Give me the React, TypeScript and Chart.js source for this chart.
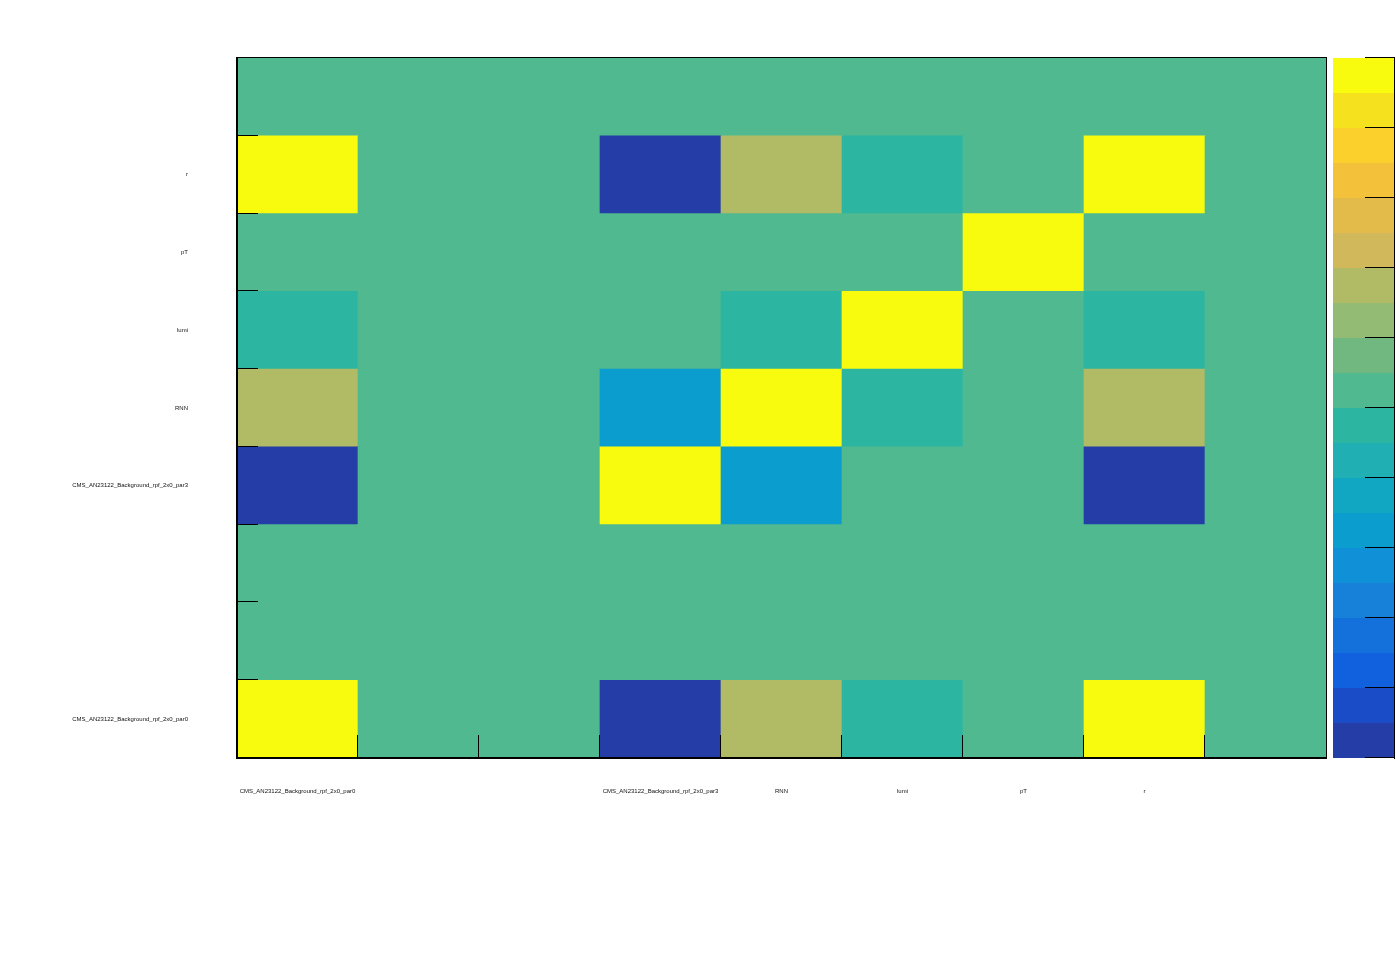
import React, { useEffect, useRef } from "react";
import { Chart, registerables } from "chart.js";

Chart.register(...registerables);

// Parameter names (bins); empty strings are unlabeled bins
const xLabels = [
  "CMS_AN23122_Background_rpf_2x0_par0",
  "",
  "",
  "CMS_AN23122_Background_rpf_2x0_par3",
  "RNN",
  "lumi",
  "pT",
  "r",
  "",
];
// y labels from bottom row to top row
const yLabels = [
  "CMS_AN23122_Background_rpf_2x0_par0",
  "",
  "",
  "CMS_AN23122_Background_rpf_2x0_par3",
  "RNN",
  "lumi",
  "pT",
  "r",
  "",
];

// Correlation values, one array per row (bottom to top), columns left to right
const rowPar0 = [1, 0, 0, -1, 0.35, -0.05, 0, 1, 0];
const rowEmpty1 = [0, 0, 0, 0, 0, 0, 0, 0, 0];
const rowEmpty2 = [0, 0, 0, 0, 0, 0, 0, 0, 0];
const rowPar3 = [-1, 0, 0, 1, -0.35, 0, 0, -1, 0];
const rowRNN = [0.35, 0, 0, -0.35, 1, -0.05, 0, 0.35, 0];
const rowLumi = [-0.05, 0, 0, 0, -0.05, 1, 0, -0.05, 0];
const rowPT = [0, 0, 0, 0, 0, 0, 1, 0, 0];
const rowR = [1, 0, 0, -1, 0.35, -0.05, 0, 1, 0];
const rowEmpty8 = [0, 0, 0, 0, 0, 0, 0, 0, 0];
const rows = [rowPar0, rowEmpty1, rowEmpty2, rowPar3, rowRNN, rowLumi, rowPT, rowR, rowEmpty8];

// Color palette (20 steps from -1 to 1)
const palette = [
  "#253DA6", "#1A4CC8", "#1160DE", "#1470DB", "#1780D8",
  "#1090D6", "#0B9DCE", "#11A7C2", "#20AFB3", "#2CB6A2",
  "#50B98F", "#70B87F", "#93BB74", "#B1BB65", "#D0B85B",
  "#E2BB4B", "#F4C13B", "#FCD02C", "#F6E11F", "#F9FB0E",
];
const zMin = -1;
const zMax = 1;
const colorbarTicks = [-1, -0.8, -0.6, -0.4, -0.2, 0, 0.2, 0.4, 0.6, 0.8, 1];

function colorFor(v: number): string {
  const n = palette.length;
  let idx = Math.floor(((v - zMin) / (zMax - zMin)) * n);
  if (idx < 0) idx = 0;
  if (idx > n - 1) idx = n - 1;
  return palette[idx];
}

const FONT = { family: "'Liberation Sans', Arial, Helvetica, sans-serif", size: 6 };

const decorPlugin = {
  id: "decor",
  afterDraw(chart: any) {
    const ctx = chart.ctx;
    const area = chart.chartArea;
    const xs = chart.scales.x;
    const ys = chart.scales.y;
    ctx.save();
    ctx.strokeStyle = "#000";
    ctx.fillStyle = "#000";
    const L = Math.round(area.left);
    const R = Math.round(area.right);
    const T = Math.round(area.top);
    const B = Math.round(area.bottom);
    // frame (1px top/right)
    ctx.fillRect(L, T - 1, R - L + 1, 1);
    ctx.fillRect(R, T - 1, 1, B - T + 1);
    // left axis line (thicker)
    ctx.fillRect(L - 1, T - 1, 2, B - T + 2);
    // bottom axis line
    ctx.fillRect(L - 1, B - 1, R - L + 2, 2);
    // y ticks at row boundaries
    for (let j = 0; j <= yLabels.length; j++) {
      const py = Math.round(ys.getPixelForValue(j));
      ctx.fillRect(L, py - 1, 21, 1);
    }
    // x ticks at column boundaries
    for (let i = 1; i < xLabels.length; i++) {
      const px = Math.round(xs.getPixelForValue(i - 0.5));
      ctx.fillRect(px - 1, B - 23, 1, 23);
    }
    // colorbar
    const cbLeft = 1333;
    const cbRight = 1394;
    const zToPix = (z: number) => area.bottom - ((z - zMin) / (zMax - zMin)) * (area.bottom - area.top);
    const n = palette.length;
    for (let k = 0; k < n; k++) {
      const z0 = zMin + (k * (zMax - zMin)) / n;
      const z1 = zMin + ((k + 1) * (zMax - zMin)) / n;
      const yTop = Math.round(zToPix(z1));
      const yBot = Math.round(zToPix(z0));
      ctx.fillStyle = palette[k];
      ctx.fillRect(cbLeft, yTop, cbRight - cbLeft, yBot - yTop);
    }
    ctx.fillStyle = "#000";
    ctx.fillRect(cbRight, T, 1, B - T + 1);
    for (const t of colorbarTicks) {
      const py = Math.round(zToPix(t));
      ctx.fillRect(1365, py - 1, cbRight - 1365 + 1, 1);
    }
    ctx.restore();
  },
};

export default function App() {
  const canvasRef = useRef<HTMLCanvasElement | null>(null);

  useEffect(() => {
    const canvas = canvasRef.current;
    if (!canvas) return;
    const datasets = rows.map((row, j) => ({
      label: yLabels[j] || `row${j}`,
      data: row.map(() => [j, j + 1]),
      backgroundColor: row.map((v) => colorFor(v)),
      borderWidth: 0,
      barPercentage: 1,
      categoryPercentage: 1,
      grouped: false,
    }));
    const chart = new Chart(canvas, {
      type: "bar",
      data: { labels: xLabels, datasets: datasets as any },
      plugins: [decorPlugin],
      options: {
        animation: false,
        responsive: false,
        maintainAspectRatio: false,
        layout: { padding: { top: 58, right: 70, left: 0, bottom: 0 } },
        plugins: { legend: { display: false }, tooltip: { enabled: false }, title: { display: false } },
        scales: {
          x: {
            type: "category",
            offset: true,
            grid: { display: false, drawTicks: false },
            border: { display: false },
            ticks: {
              autoSkip: false,
              maxRotation: 0,
              minRotation: 0,
              padding: 30,
              font: FONT,
              color: "#111",
            },
            afterFit: (s: any) => {
              s.height = 214;
            },
          },
          y: {
            type: "linear",
            min: 0,
            max: 9,
            grid: { display: false, drawTicks: false },
            border: { display: false },
            afterBuildTicks: (s: any) => {
              s.ticks = yLabels.map((_, i) => ({ value: i + 0.5 }));
            },
            ticks: {
              autoSkip: false,
              padding: 49,
              font: FONT,
              color: "#111",
              callback: (_v: any, i: number) => yLabels[i],
            },
            afterFit: (s: any) => {
              s.width = 237;
            },
          },
        },
      } as any,
    });
    return () => chart.destroy();
  }, []);

  return (
    <div style={{ position: "absolute", left: 0, top: 0, width: 1396, height: 972, background: "#fff" }}>
      <canvas ref={canvasRef} width={1396} height={972} style={{ display: "block", width: 1396, height: 972 }} />
    </div>
  );
}
